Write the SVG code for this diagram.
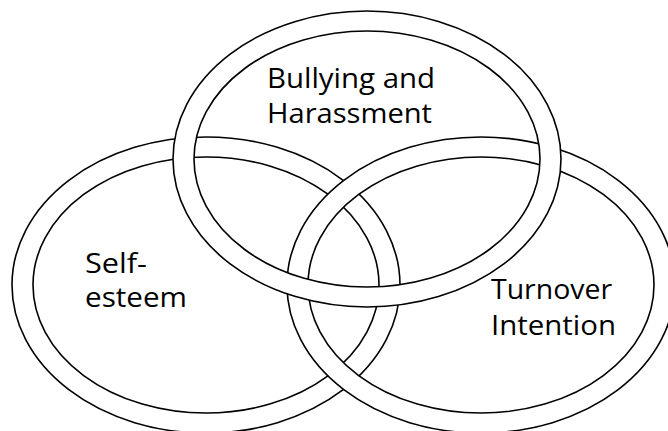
<svg xmlns="http://www.w3.org/2000/svg" width="668" height="431" viewBox="0 0 668 431">
  <style>
    .ring { fill: #ffffff; fill-rule: evenodd; stroke: #000000; stroke-width: 1.6; }
    .label { font-family: "Open Sans", "Liberation Sans", sans-serif; font-size: 27px; fill: #000000; }
  </style>
  <rect width="668" height="431" fill="#ffffff"/>

  <!-- Rings are stacked: left at the bottom, then right, then top; each is a white band with a hole -->
  <g id="self-esteem">
    <path class="ring" d="M12,285 a194,148 0 1,0 388,0 a194,148 0 1,0 -388,0 Z M33,285 a173,128 0 1,0 346,0 a173,128 0 1,0 -346,0 Z"/>
    <text class="label" x="85" y="273" textLength="62" lengthAdjust="spacingAndGlyphs">Self-</text>
    <text class="label" x="85" y="307" textLength="102" lengthAdjust="spacingAndGlyphs">esteem</text>
  </g>

  <g id="turnover-intention">
    <path class="ring" d="M287,285 a194,148 0 1,0 388,0 a194,148 0 1,0 -388,0 Z M308,285 a173,128 0 1,0 346,0 a173,128 0 1,0 -346,0 Z"/>
    <text class="label" x="491" y="299" textLength="121" lengthAdjust="spacingAndGlyphs">Turnover</text>
    <text class="label" x="491" y="335" textLength="125" lengthAdjust="spacingAndGlyphs">Intention</text>
  </g>

  <g id="bullying-harassment">
    <path class="ring" d="M173,159 a194,148 0 1,0 388,0 a194,148 0 1,0 -388,0 Z M194,159 a173,128 0 1,0 346,0 a173,128 0 1,0 -346,0 Z"/>
    <text class="label" x="267" y="88" textLength="168" lengthAdjust="spacingAndGlyphs">Bullying and</text>
    <text class="label" x="267" y="123" textLength="165" lengthAdjust="spacingAndGlyphs">Harassment</text>
  </g>
</svg>
